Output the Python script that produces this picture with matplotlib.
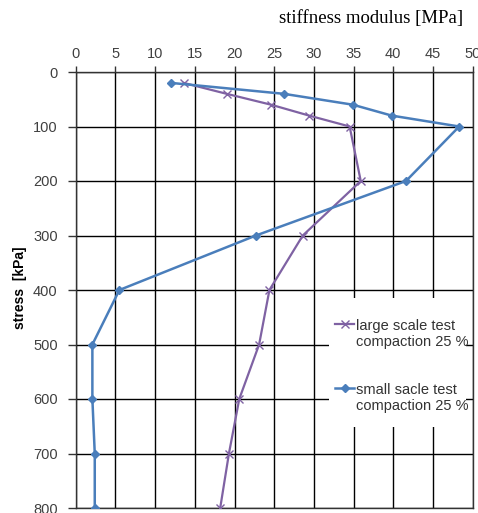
import matplotlib
matplotlib.use("Agg")
import matplotlib.pyplot as plt
from matplotlib.patches import Rectangle

stress = [20, 40, 60, 80, 100, 200, 300, 400, 500, 600, 700, 800]
large_scale = [13.6, 19.0, 24.6, 29.4, 34.5, 35.9, 28.6, 24.4, 23.1, 20.6, 19.3, 18.2]
small_scale = [12.0, 26.2, 34.9, 39.8, 48.3, 41.6, 22.7, 5.5, 2.1, 2.1, 2.4, 2.4]
x_ticks = [0, 5, 10, 15, 20, 25, 30, 35, 40, 45, 50]
y_ticks = [0, 100, 200, 300, 400, 500, 600, 700, 800]
labels = ["large scale test\ncompaction 25 %", "small sacle test\ncompaction 25 %"]

W, H = 478, 513
fig = plt.figure(figsize=(W / 100, H / 100), dpi=100)
ax = fig.add_axes([75.7 / W, 1 - 508 / H, (472.7 - 75.7) / W, (508 - 72) / H])

ax.plot(large_scale, stress, color="#7f62a3", lw=1.6, marker="x", ms=6, mew=1.0,
        label=labels[0], zorder=3)
ax.plot(small_scale, stress, color="#4a7ebb", lw=1.8, marker="D", ms=4.5,
        label=labels[1], zorder=3)

ax.set_xlim(0, 50)
ax.set_ylim(800, 0)
ax.set_xticks(x_ticks)
ax.set_yticks(y_ticks)
ax.xaxis.tick_top()
ax.grid(True, color="black", lw=1.0)
ax.set_axisbelow(True)
for s in ax.spines.values():
    s.set_color("#333333")
    s.set_linewidth(1.0)
ax.tick_params(axis="both", labelsize=10.5, colors="#333333", width=1)
ax.tick_params(axis="y", length=6, pad=7)
ax.tick_params(axis="x", length=4, pad=4)
for lab in ax.get_xticklabels() + ax.get_yticklabels():
    lab.set_fontfamily("Liberation Sans")
    lab.set_color("#404040")

fig.text(463 / W, 1 - 18 / H, "stiffness modulus [MPa]", family="Liberation Serif",
         fontsize=13.5, ha="right", va="center", color="black")
fig.text(20 / W, 1 - 288 / H, "stress  [kPa]", family="Liberation Sans",
         fontweight="bold", fontsize=10, rotation=90, ha="center", va="center")

# white legend area covering grid
ax.add_patch(Rectangle((329 / W, 1 - 427 / H), (466 - 329) / W, (427 - 298) / H,
                       transform=fig.transFigure, facecolor="white", edgecolor="none",
                       zorder=2.5))
leg = fig.legend(loc="upper left", bbox_to_anchor=(322 / W, 1 - 306 / H), frameon=False,
                 handlelength=1.3, handletextpad=0.1, labelspacing=2.3,
                 prop={"family": "Liberation Sans", "size": 10.5})
for col in leg._legend_handle_box.get_children():
    for item in col.get_children():
        item.align = "top"
for t in leg.get_texts():
    t.set_color("#333333")

fig.savefig("out.png", dpi=100, facecolor="white")
